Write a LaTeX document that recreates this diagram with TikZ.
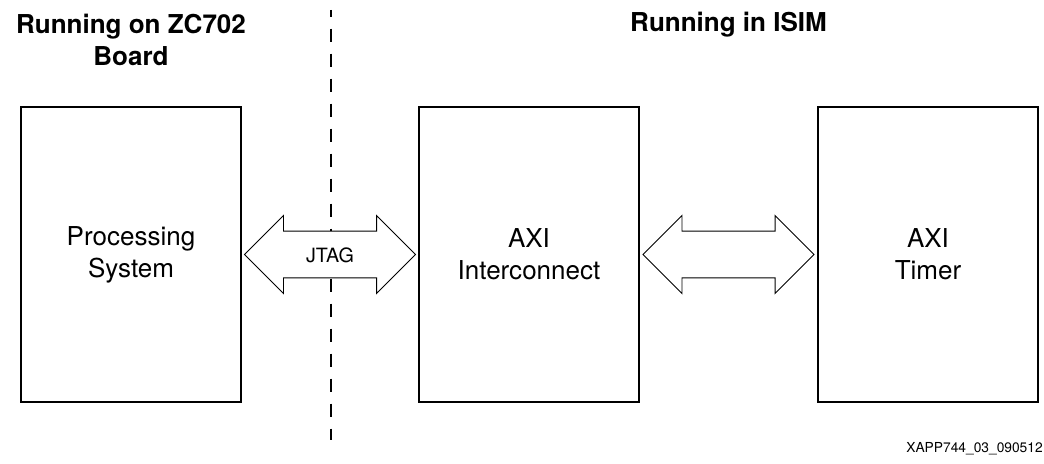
\documentclass[tikz,border=0pt]{standalone}
\usepackage{fontspec}
\setmainfont{TeX Gyre Heros}
\usetikzlibrary{shapes.arrows,calc}

\tikzset{
  block/.style={draw, line width=1.4pt, minimum width=5.5cm, minimum height=7.35cm,
    inner sep=0pt, align=center, font=\fontsize{18.5}{22.8}\selectfont},
  link/.style={draw, fill=white, double arrow, line width=0.7pt, minimum height=4.275cm,
    minimum width=1.95cm, inner xsep=0pt, inner ysep=0.17cm,
    text height=0.38cm, text depth=0cm, font=\fontsize{14}{17}\selectfont},
  heading/.style={inner sep=0pt, align=center, font=\bfseries\fontsize{18.5}{22.8}\selectfont}
}

\begin{document}
\begin{tikzpicture}[x=0.025cm, y=-0.025cm]
      \useasboundingbox (0,0) rectangle (1044,464);

      \node[heading, anchor=north] (board) at (131,14) {Running on ZC702\\Board};
      \node[heading, anchor=base]  (isim)  at (728.5,32) {Running in ISIM};

      \coordinate (splittop) at (331,10);
      \coordinate (splitbot) at (331,440);
      \draw[line width=1.5pt, dash pattern=on 0.3375cm off 0.2875cm, dash phase=0.16cm]
        (splittop) -- (splitbot);

      \node[block] (ps)    at (131,254.5) {Processing\\System};
      \node[block] (axi)   at (529,254.5) {AXI\\Interconnect};
      \node[block] (timer) at (928,254.5) {AXI\\Timer};

      \node[link] (jtag) at ($(ps.east)!.5!(axi.west)$) {JTAG};
      \node[link] (bus)  at ($(axi.east)!.5!(timer.west)$) {};

      \node[anchor=base east, inner sep=0pt, font=\fontsize{9.8}{12}\selectfont]
        (fig) at (1043,452) {XAPP744\_03\_090512};
    \end{tikzpicture}
\end{document}
